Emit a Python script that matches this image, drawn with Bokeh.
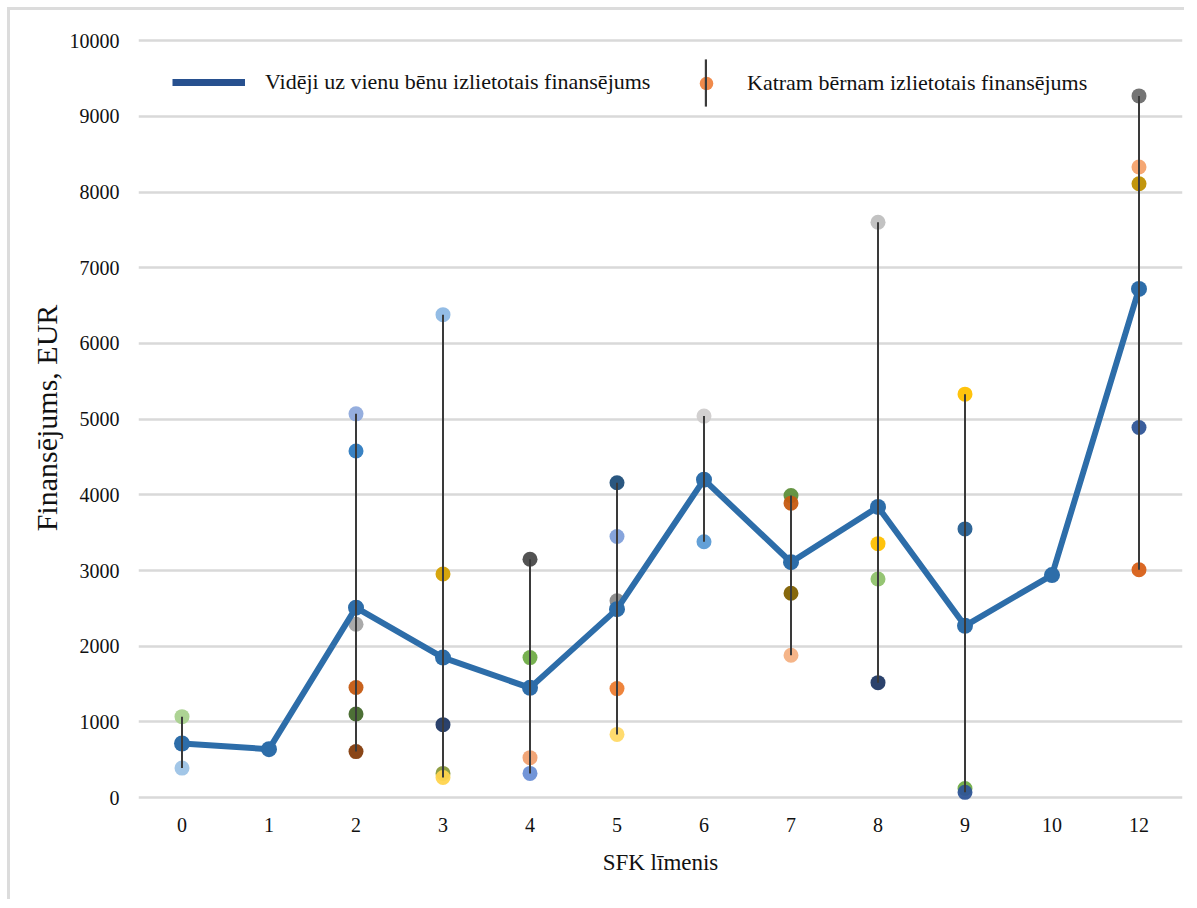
from bokeh.plotting import figure
from bokeh.models import (Range1d, FactorRange, Legend, LegendItem, FixedTicker,
                          ColumnDataSource)
from bokeh.embed import file_html
from bokeh.resources import INLINE
import numpy as np

# ---------------- data ----------------
categories = ["0", "1", "2", "3", "4", "5", "6", "7", "8", "9", "10", "12"]
mean_values = [715, 640, 2510, 1850, 1450, 2490, 4200, 3110, 3840, 2270, 2940, 6720]

child_sfk = ["0", "0",
             "2", "2", "2", "2", "2", "2",
             "3", "3", "3", "3", "3",
             "4", "4", "4", "4",
             "5", "5", "5", "5", "5",
             "6", "6",
             "7", "7", "7", "7",
             "8", "8", "8", "8",
             "9", "9", "9", "9",
             "12", "12", "12", "12", "12"]
child_values = [1070, 390,
                5070, 4580, 2290, 1455, 1105, 608,
                6380, 2955, 964, 320, 265,
                3150, 1850, 528, 320,
                4160, 3450, 2600, 1440, 835,
                5040, 3380,
                3990, 3890, 2700, 1880,
                7600, 3355, 2888, 1519,
                5330, 3550, 120, 70,
                9270, 8330, 8110, 4890, 3010]
child_colors = ["#A9D18E", "#9DC3E6",
                "#8FAADC", "#2E7BC0", "#A5A5A5", "#C55A11", "#43682B", "#843C0C",
                "#8DB8E4", "#D4A000", "#203864", "#8A9A3A", "#FFD44D",
                "#4A4A4A", "#70AD47", "#F0A070", "#6A8FD6",
                "#1F4E79", "#7F9FDA", "#8A8A8A", "#ED7D31", "#FFD966",
                "#D0CECE", "#5B9BD5",
                "#5E8F3A", "#C55A11", "#7F6000", "#F4B183",
                "#BFBFBF", "#FFC000", "#8FC26B", "#203864",
                "#FFC000", "#255E91", "#70AD47", "#2F5597",
                "#6D6D6D", "#F4A26C", "#BF9000", "#2F5597", "#D86018"]

y_ticks = [0, 1000, 2000, 3000, 4000, 5000, 6000, 7000, 8000, 9000, 10000]

label_mean = "Vidēji uz vienu bēnu izlietotais finansējums"
label_child = "Katram bērnam izlietotais finansējums"
x_title = "SFK līmenis"
y_title = "Finansējums, EUR"

# ---------------- figure ----------------
FONT = "Liberation Serif"
TXT = "#111111"

p = figure(width=1177, height=892,
           x_range=FactorRange(factors=categories, range_padding=0),
           y_range=Range1d(-170, 10200),
           output_backend="svg", toolbar_location=None,
           min_border_left=128, min_border_right=5,
           min_border_top=15, min_border_bottom=92)
p.outline_line_color = None
p.background_fill_color = "white"
p.border_fill_color = "white"
p.styles = {"margin-left": "7px", "margin-top": "7px",
            "border-top": "3px solid #DCDCDC", "border-left": "3px solid #DCDCDC"}

# grid
p.xgrid.grid_line_color = None
p.ygrid.grid_line_color = "#D9D9D9"
p.ygrid.grid_line_width = 2.5
p.yaxis.ticker = FixedTicker(ticks=y_ticks)

for ax in (p.xaxis[0], p.yaxis[0]):
    ax.axis_line_color = None
    ax.major_tick_line_color = None
    ax.minor_tick_line_color = None
    ax.major_tick_out = 0
    ax.major_tick_in = 0
    ax.major_label_text_font = FONT
    ax.major_label_text_color = TXT
    ax.major_label_text_font_size = "20px"
    ax.axis_label_text_font = FONT
    ax.axis_label_text_color = TXT
    ax.axis_label_text_font_style = "normal"

p.yaxis.major_label_standoff = 19
p.yaxis.axis_label = y_title
p.yaxis.axis_label_text_font_size = "30px"
p.yaxis.axis_label_standoff = 4

p.xaxis.major_label_standoff = 7
p.xaxis.axis_label = x_title
p.xaxis.axis_label_text_font_size = "23px"
p.xaxis.axis_label_standoff = 15

# individual children points
src = ColumnDataSource(dict(x=child_sfk, y=child_values, c=child_colors))
p.scatter(x="x", y="y", source=src, size=15, fill_color="c", line_color=None,
          fill_alpha=0.95)

# mean line with markers
LINE_C = "#2D6DA9"
p.line(x=categories, y=mean_values, line_color=LINE_C, line_width=6)
p.scatter(x=categories, y=mean_values, size=16, fill_color=LINE_C, line_color=None)

# min-max vertical lines per category
seg_x, seg_lo, seg_hi = [], [], []
cs = np.array(child_sfk)
vs = np.array(child_values)
for c in categories:
    v = vs[cs == c]
    if len(v) >= 2:
        seg_x.append(c)
        seg_lo.append(int(v.min()))
        seg_hi.append(int(v.max()))
p.segment(x0=seg_x, y0=seg_lo, x1=seg_x, y1=seg_hi, line_color="#3A3A3A",
          line_width=2)

# ---------------- legends (proxy renderers, NaN data -> not drawn in plot) ----
nan = float("nan")
leg_line = p.line(x=[categories[0]], y=[nan], line_color="#27508F", line_width=7)
leg_bar = p.vbar(x=[categories[0]], top=[nan], bottom=[nan], width=0.1,
                 fill_color="#3A3A3A", line_color=None)
leg_dot = p.scatter(x=[categories[0]], y=[nan], size=12, fill_color="#F08A4B",
                    line_color=None)

common = dict(padding=0, margin=0, spacing=0, border_line_alpha=0,
              background_fill_alpha=0, label_text_font=FONT,
              label_text_color=TXT)

legA = Legend(items=[LegendItem(label=label_mean, renderers=[leg_line])],
              location=(34, 715), glyph_width=73, glyph_height=20,
              label_standoff=20, label_text_font_size="22px", **common)
legC = Legend(items=[LegendItem(label=" ", renderers=[leg_dot])],
              location=(551, 710), glyph_width=34, glyph_height=34,
              label_standoff=0, label_text_alpha=0, label_text_font_size="1px",
              label_width=1, label_height=1, **common)
legB = Legend(items=[LegendItem(label=label_child, renderers=[leg_bar])],
              location=(566, 698), glyph_width=3, glyph_height=59,
              label_standoff=40, label_text_font_size="22px", **common)
p.add_layout(legA)
p.add_layout(legC)
p.add_layout(legB)

open("out.html", "w").write(file_html(p, INLINE))
